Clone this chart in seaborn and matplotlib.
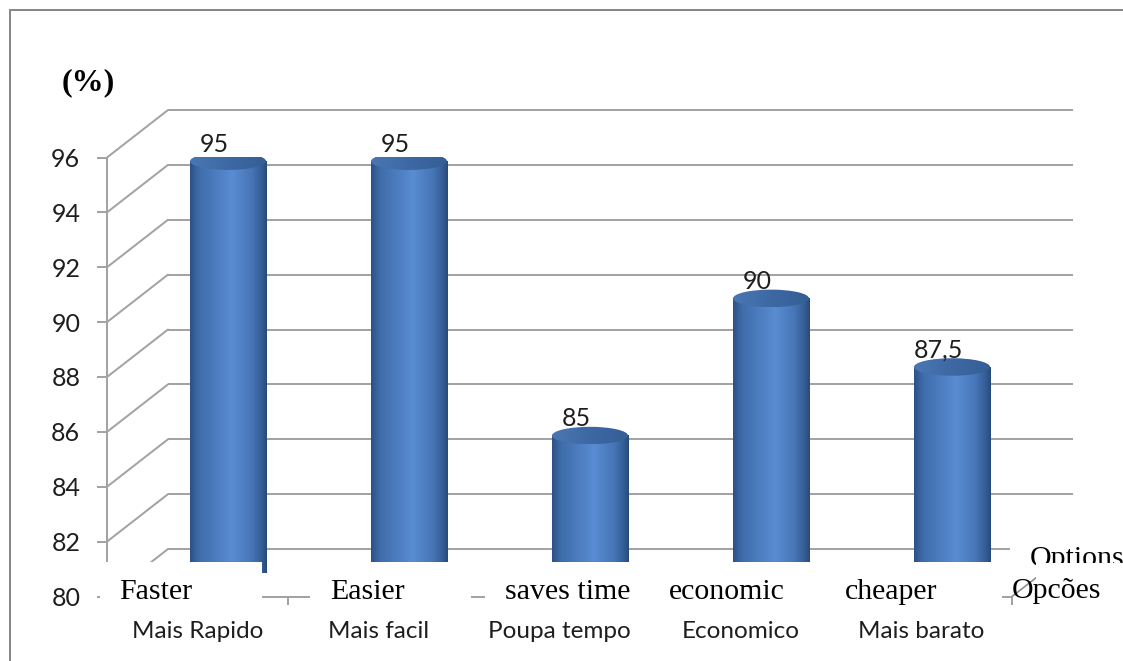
import numpy as np
import pandas as pd
import matplotlib
matplotlib.use("Agg")
import matplotlib.pyplot as plt
import seaborn as sns
from matplotlib.colors import LinearSegmentedColormap
from matplotlib.patches import Ellipse, Rectangle, ConnectionPatch
from matplotlib.transforms import offset_copy
from matplotlib.lines import Line2D

# ---- data ----
categories = ["Mais Rapido", "Mais facil", "Poupa tempo", "Economico", "Mais barato"]
values = [95, 95, 85, 90, 87.5]
english_labels = ["Faster", "Easier", "saves time", "economic", "cheaper"]
y_ticks = [80, 82, 84, 86, 88, 90, 92, 94, 96]
unit_label = "(%)"
axis_title_en = "Options"
axis_title_pt = "Opcões"

# ---- canvas ----
W, H, DPI = 1123, 661, 100
sns.set_theme(style="ticks")
plt.rcParams["font.family"] = ["Lato", "DejaVu Sans"]

fig = plt.figure(figsize=(W / DPI, H / DPI), dpi=DPI)
fig.patch.set_facecolor("white")

GRID = "#a3a3a3"
LW = 2 * 72 / DPI
TXT = "#1e1e1e"
NUM_SIZE = 18
CAT_SIZE = 17.5
SERIF = ["Liberation Serif", "DejaVu Serif"]

# front plane of the 3-D box (pixel layout, origin top-left)
FX0, FX1, FY_TOP, FY_BOT = 107, 1012, 157.5, 596.5
ax = fig.add_axes([FX0 / W, 1 - FY_BOT / H, (FX1 - FX0) / W, (FY_BOT - FY_TOP) / H])
ax.patch.set_visible(False)

# depth offsets in display pixels: back wall and mid-depth (where the cylinders stand)
DEPTH_X, DEPTH_Y = 61, 47.5
back = offset_copy(ax.transData, x=DEPTH_X, y=DEPTH_Y, units="dots")
mid = offset_copy(ax.transData, x=DEPTH_X / 2, y=DEPTH_Y / 2, units="dots")

# ---- bars ----
df = pd.DataFrame({"categoria": categories, "valor": values})
sns.barplot(data=df, x="categoria", y="valor", ax=ax, width=0.42,
            color="#4f81bd", saturation=1, zorder=3)

body_cmap = LinearSegmentedColormap.from_list(
    "cyl", [(0.0, "#2c5286"), (0.12, "#3f6dab"), (0.55, "#5a8cd2"),
            (0.8, "#4776b7"), (0.93, "#355e96"), (1.0, "#284a78")])
top_cmap = LinearSegmentedColormap.from_list("cyltop", ["#4a77b3", "#3d68a3", "#355e95"])
grad = np.linspace(0, 1, 256)[None, :]
TOP_H = 17.5 / ((FY_BOT - FY_TOP) / (y_ticks[-1] - y_ticks[0]))  # ellipse height in data units

for patch, v in zip(ax.patches, values):
    x0, w = patch.get_x(), patch.get_width()
    patch.set_y(y_ticks[0])
    patch.set_height(v - y_ticks[0])
    patch.set_transform(mid)
    patch.set_facecolor("none")
    patch.set_edgecolor("none")
    patch.set_clip_on(False)

    body = ax.imshow(grad, cmap=body_cmap, extent=[x0, x0 + w, y_ticks[0], v],
                     aspect="auto", interpolation="bicubic", zorder=3)
    body.set_transform(mid)
    body.set_clip_path(patch)
    body.set_clip_box(None)

    cap = Ellipse((x0 + w / 2, v), width=w, height=TOP_H, transform=mid,
                  facecolor="none", edgecolor="none", zorder=4)
    ax.add_patch(cap)
    cap.set_clip_on(False)
    cap_img = ax.imshow(grad, cmap=top_cmap,
                        extent=[x0, x0 + w, v - TOP_H / 2, v + TOP_H / 2],
                        aspect="auto", interpolation="bicubic", zorder=4)
    cap_img.set_transform(mid)
    cap_img.set_clip_path(cap)
    cap_img.set_clip_box(None)

# value labels above each cylinder
label_tr = offset_copy(ax.transData, x=DEPTH_X / 2 - 14, y=DEPTH_Y / 2 + 9.5, units="dots")
for i, v in enumerate(values):
    txt = f"{v:g}".replace(".", ",")
    ax.text(i, v, txt, transform=label_tr, ha="center", va="baseline",
            fontsize=NUM_SIZE, color=TXT, zorder=6, clip_on=False)

# ---- back wall grid and side wall diagonals ----
for v in y_ticks:
    ax.plot([-0.5, 4.5], [v, v], transform=back, color=GRID, lw=LW,
            clip_on=False, zorder=1, solid_capstyle="butt")
    con = ConnectionPatch(xyA=(-0.5, v), coordsA=ax.transData,
                          xyB=(-0.5, v), coordsB=back,
                          color=GRID, lw=LW, zorder=1)
    ax.add_artist(con)
    con.set_clip_on(False)

# ---- axes styling ----
ax.set_xlim(-0.5, 4.5)
ax.set_ylim(y_ticks[0], y_ticks[-1])
ax.set_yticks(y_ticks)
ax.set_xticks(range(len(categories)))
ax.set_xticklabels(categories)
ax.set_xticks([i + 0.5 for i in range(len(categories))], minor=True)
ax.set_xlabel("")
ax.set_ylabel("")
ax.grid(False)
for s in ["top", "right"]:
    ax.spines[s].set_visible(False)
for s in ["left", "bottom"]:
    ax.spines[s].set_color(GRID)
    ax.spines[s].set_linewidth(LW)
ax.tick_params(axis="y", left=True, length=7.2, width=LW, color=GRID, pad=12,
               labelsize=NUM_SIZE, labelcolor=TXT)
ax.tick_params(axis="x", which="major", bottom=True, length=0, pad=18,
               labelsize=CAT_SIZE, labelcolor=TXT)
ax.tick_params(axis="x", which="minor", bottom=True, length=6, width=LW,
               color=GRID, direction="out")


# ---- overlaid text boxes (pixel layout helpers) ----
def fx(x):
    return x / W


def fy(y):
    return 1 - y / H


def white_box(x0, y0, x1, y1, z):
    fig.add_artist(Rectangle((fx(x0), fy(y1)), fx(x1) - fx(x0), fy(y0) - fy(y1),
                             transform=fig.transFigure, facecolor="white",
                             edgecolor="none", zorder=z))


# right floor edge running back from the front corner
floor_edge = ConnectionPatch(xyA=(4.5, y_ticks[0]), coordsA=ax.transData,
                             xyB=(4.5, y_ticks[0]), coordsB=back,
                             color="#8a8a8a", lw=LW * 0.8, zorder=1)
fig.add_artist(floor_edge)

white_box(100, 562, 262, 612, 2)
white_box(310, 562, 471, 612, 2)
white_box(485, 562, 1002, 612, 2)
white_box(1010, 538, 1123, 563, 2)

opt_tr = offset_copy(ax.transData, x=18, y=30, units="dots")
t_opt = fig.text(0, 0, axis_title_en, fontsize=21.5, family=SERIF, color="black",
                 ha="left", va="baseline", zorder=3)
t_opt.set_transform(opt_tr)
t_opt.set_position((4.5, y_ticks[0]))

white_box(1036, 563, 1123, 580, 4)

t_pt = fig.text(0, 0, axis_title_pt, fontsize=21.5, family=SERIF, color="black",
                ha="left", va="baseline", zorder=5)
t_pt.set_transform(offset_copy(ax.transData, x=0, y=-1.5, units="dots"))
t_pt.set_position((4.5, y_ticks[0]))

# English translations above the Portuguese category names
en_dx = [-41.5, -11, 8, -14, -30.5]
for i, (lab, dx) in enumerate(zip(english_labels, en_dx)):
    t = fig.text(0, 0, lab, fontsize=21.5, family=SERIF, color="black",
                 ha="center", va="baseline", zorder=5)
    t.set_transform(offset_copy(ax.transData, x=dx, y=-2.5, units="dots"))
    t.set_position((i, y_ticks[0]))

# unit label
fig.text(fx(88.5), fy(82.5), unit_label, fontsize=23, family=SERIF, weight="bold",
         color="black", ha="center", va="center", zorder=5)

# outer frame (left and top edges)
fig.add_artist(Line2D([fx(9.5), fx(9.5)], [fy(10), fy(H + 5)], transform=fig.transFigure,
                      color="#888888", lw=LW, zorder=6))
fig.add_artist(Line2D([fx(9.5), fx(W + 5)], [fy(10), fy(10)], transform=fig.transFigure,
                      color="#888888", lw=LW, zorder=6))

fig.savefig("out.png", dpi=DPI, facecolor="white")
